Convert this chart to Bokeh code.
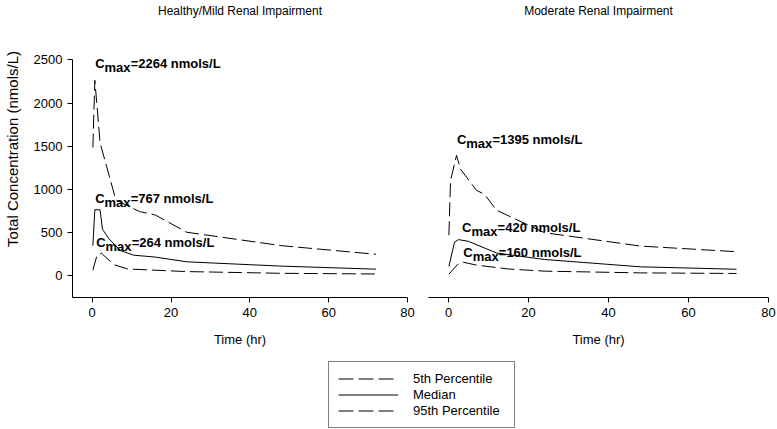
from bokeh.plotting import figure
from bokeh.layouts import column, row
from bokeh.models import Legend, LegendItem, FixedTicker, Range1d
from bokeh.embed import file_html
from bokeh.resources import INLINE
from bokeh.core.properties import value

# ---------------- data ----------------
panel_titles = ["Healthy/Mild Renal Impairment", "Moderate Renal Impairment"]

# Healthy / mild renal impairment
hm_p95_t = [0.17, 0.67, 2, 6, 12, 16, 24, 48, 72]
hm_p95_v = [1485, 2264, 1540, 880, 745, 705, 505, 350, 250]
hm_med_t = [0.17, 0.67, 2, 2.6, 4.25, 7.2, 10.5, 16, 24, 48, 72]
hm_med_v = [350, 767, 764, 540, 428, 293, 240, 218, 163, 113, 78]
hm_p05_t = [0.17, 1.2, 2.3, 5.5, 9, 24, 48, 72]
hm_p05_v = [66, 235, 264, 130, 80, 50, 30, 22]

# Moderate renal impairment
mod_p95_t = [0.1, 0.5, 2, 3, 7, 9, 12, 24, 48, 72]
mod_p95_v = [470, 1100, 1395, 1235, 990, 945, 760, 500, 345, 280]
mod_med_t = [0.1, 1.5, 2.5, 5, 12, 24, 48, 72]
mod_med_v = [110, 390, 420, 400, 265, 190, 105, 77]
mod_p05_t = [0.1, 2.2, 3.5, 7, 15, 24, 48, 72]
mod_p05_v = [20, 130, 160, 125, 80, 55, 35, 28]

# Cmax annotations (value, anchor time, anchor concentration)
hm_cmax = [2264, 767, 264]
hm_lab_t = [0.75, 0.75, 1.0]
hm_lab_v = [2460, 895, 388]
mod_cmax = [1395, 420, 160]
mod_lab_t = [2.1, 3.4, 3.7]
mod_lab_v = [1575, 560, 272]

# panel title anchor (time, concentration) above the plotted area
title_t = 37.5
title_v = 3068

x_ticks = [0, 20, 40, 60, 80]
y_ticks = [0, 500, 1000, 1500, 2000, 2500]
y_axis_bounds = (-250, 2500)
legend_labels = ["5th Percentile", "Median", "95th Percentile"]

FONT = value("Liberation Sans")
DASH = "14 5"


def style_axis(ax, ticks):
    ax.ticker = FixedTicker(ticks=ticks)
    ax.major_tick_out = 5
    ax.major_tick_in = 0
    ax.minor_tick_out = 0
    ax.minor_tick_in = 0
    ax.axis_line_color = "black"
    ax.major_tick_line_color = "black"
    ax.major_label_text_font = "Liberation Sans"
    ax.major_label_text_font_size = "13px"
    ax.major_label_text_color = "black"
    ax.major_label_standoff = 5
    ax.axis_label_text_font = "Liberation Sans"
    ax.axis_label_text_font_style = "normal"
    ax.axis_label_text_color = "black"


def make_panel(title, p95, med, p05, cmax, lab_t, lab_v, show_y, width, bl, br):
    p = figure(width=width, height=356, x_range=Range1d(-5, 80), y_range=Range1d(-250, 3187.5),
               output_backend="svg", toolbar_location=None,
               min_border_left=bl, min_border_right=br, min_border_top=0, min_border_bottom=59,
               y_axis_location="left" if show_y else None)
    p.outline_line_color = None
    p.grid.visible = False
    style_axis(p.xaxis[0], x_ticks)
    p.xaxis.axis_label = "Time (hr)"
    p.xaxis.axis_label_text_font_size = "13px"
    p.xaxis.axis_label_standoff = 12
    if show_y:
        style_axis(p.yaxis[0], y_ticks)
        p.yaxis.bounds = y_axis_bounds
        p.yaxis.axis_label = "Total Concentration (nmols/L)"
        p.yaxis.axis_label_text_font_size = "15px"
        p.yaxis.axis_label_standoff = 10

    p.line(p95[0], p95[1], line_color="black", line_width=1, line_dash=DASH)
    p.line(med[0], med[1], line_color="black", line_width=1)
    p.line(p05[0], p05[1], line_color="black", line_width=1, line_dash=DASH)

    rest = ["={} nmols/L".format(c) for c in cmax]
    common = dict(text_font=FONT, text_font_style="bold", text_font_size="13px",
                  text_color="black", text_baseline="alphabetic", text_align="left")
    p.text(x=lab_t, y=lab_v, text=["C"] * len(cmax), **common)
    p.text(x=lab_t, y=lab_v, text=["max"] * len(cmax), x_offset=9.4, y_offset=4, **common)
    p.text(x=lab_t, y=lab_v, text=rest, x_offset=35.5, **common)

    p.text(x=[title_t], y=[title_v], text=[title], text_font=FONT, text_font_size="12px",
           text_color="black", text_align="center", text_baseline="alphabetic")
    return p


p1 = make_panel(panel_titles[0], (hm_p95_t, hm_p95_v), (hm_med_t, hm_med_v), (hm_p05_t, hm_p05_v),
                hm_cmax, hm_lab_t, hm_lab_v, True, 417, 67, 10)
p2 = make_panel(panel_titles[1], (mod_p95_t, mod_p95_v), (mod_med_t, mod_med_v), (mod_p05_t, mod_p05_v),
                mod_cmax, mod_lab_t, mod_lab_v, False, 360, 11, 9)

# legend panel: proxies use the healthy-panel series, which lie outside this panel's 0..1 view
leg = figure(width=777, height=73, output_backend="svg", toolbar_location=None,
             x_axis_location=None, y_axis_location=None, min_border=0,
             x_range=Range1d(0, 1), y_range=Range1d(0, 1))
leg.outline_line_color = None
leg.grid.visible = False
r1 = leg.line(hm_p05_t, hm_p05_v, line_color="black", line_width=1, line_dash="15 5")
r2 = leg.line(hm_med_t, hm_med_v, line_color="black", line_width=1)
r3 = leg.line(hm_p95_t, hm_p95_v, line_color="black", line_width=1, line_dash="15 5")
legend = Legend(items=[LegendItem(label=legend_labels[0], renderers=[r1]),
                       LegendItem(label=legend_labels[1], renderers=[r2]),
                       LegendItem(label=legend_labels[2], renderers=[r3])],
                location=(328, 1), border_line_color="black", border_line_width=1,
                padding=9, spacing=1, glyph_width=60, glyph_height=15, label_height=15,
                label_width=92, label_standoff=15, margin=0,
                label_text_font="Liberation Sans", label_text_font_size="13px",
                label_text_color="black", background_fill_color="white", background_fill_alpha=1)
leg.add_layout(legend)

root = column(row(p1, p2), leg)

open("out.html", "w").write(file_html(root, INLINE))
